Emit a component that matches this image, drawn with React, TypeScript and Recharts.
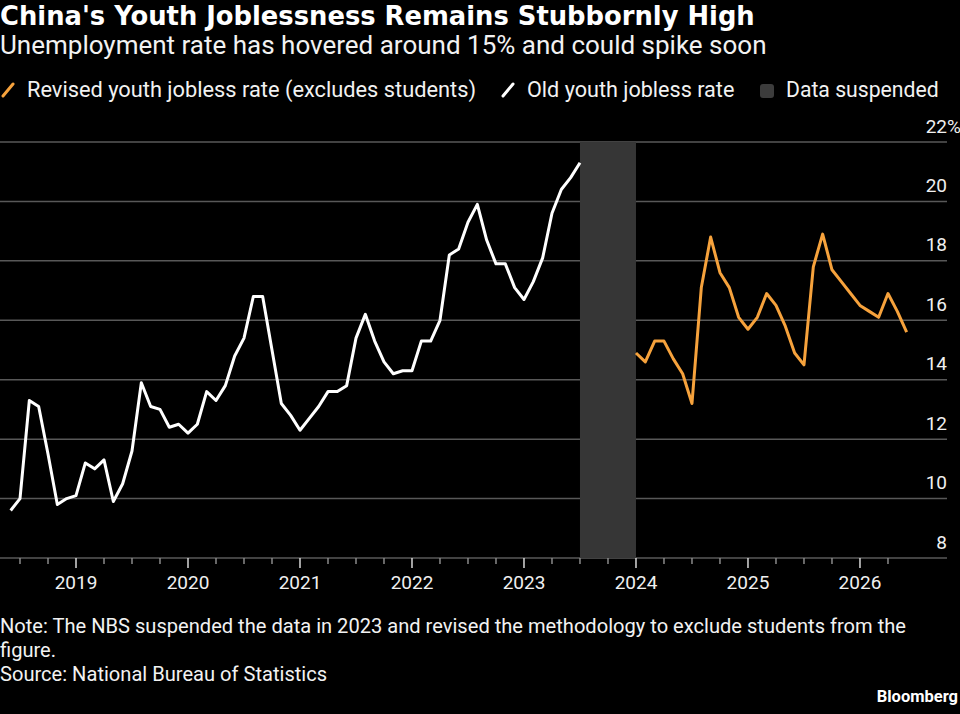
import { CartesianGrid, Line, LineChart, ReferenceArea, XAxis, YAxis } from 'recharts';

const FONT = 'Roboto, "Noto Sans", sans-serif';
const TITLE_FONT = '"DejaVu Sans", Verdana, sans-serif';
const ORANGE = '#f6a23c';
const GRID = '#585858';

// monthly rates (%), each point sits at the end of its month
const oldStartYear = 2018;
const oldStartMonth = 5;
const oldRate = [
  9.6, 10.0, 13.3, 13.1, 11.5, 9.8, 10.0, 10.1,
  11.2, 11.0, 11.3, 9.9, 10.5, 11.6, 13.9, 13.1, 13.0, 12.4, 12.5, 12.2,
  12.5, 13.6, 13.3, 13.8, 14.8, 15.4, 16.8, 16.8, 15.0, 13.2, 12.8, 12.3,
  12.7, 13.1, 13.6, 13.6, 13.8, 15.4, 16.2, 15.3, 14.6, 14.2, 14.3, 14.3,
  15.3, 15.3, 16.0, 18.2, 18.4, 19.3, 19.9, 18.7, 17.9, 17.9, 17.1, 16.7,
  17.3, 18.1, 19.6, 20.4, 20.8, 21.3,
];

const revisedStartYear = 2023;
const revisedStartMonth = 12;
const revisedRate = [
  14.9,
  14.6, 15.3, 15.3, 14.7, 14.2, 13.2, 17.1, 18.8, 17.6, 17.1, 16.1, 15.7,
  16.1, 16.9, 16.5, 15.8, 14.9, 14.5, 17.8, 18.9, 17.7, 17.3, 16.9, 16.5,
  16.3, 16.1, 16.9, 16.3, 15.6,
];

const suspendedFrom = 2023.5;
const suspendedTo = 2024;

const yTicks = [8, 10, 12, 14, 16, 18, 20, 22];
const xDomain = [2018.3214, 2026.777];
const firstQuarterTick = 2018.5;
const lastQuarterTick = 2026.25;

const quarterTicks: number[] = [];
for (let q = firstQuarterTick; q <= lastQuarterTick + 0.001; q += 0.25) quarterTicks.push(q);

const rows = [
  ...oldRate.map((v, i) => ({ t: oldStartYear + (oldStartMonth + i) / 12, old: v, revised: null })),
  ...revisedRate.map((v, i) => ({ t: revisedStartYear + (revisedStartMonth + i) / 12, old: null, revised: v })),
];

const YTick = ({ x, y, payload }: any) => (
  <g>
    <text x={x} y={y - 9.5} textAnchor="end" fill="#f0f0f0" fontSize={19} fontFamily={FONT}>
      {payload.value}
    </text>
    {payload.value === 22 && (
      <text x={x} y={y - 9.5} textAnchor="start" fill="#f0f0f0" fontSize={19} fontFamily={FONT}>
        %
      </text>
    )}
  </g>
);

const XTick = ({ x, y, payload }: any) => {
  const year = Math.round(payload.value);
  const major = Math.abs(payload.value - year) < 0.01;
  return (
    <g>
      <line x1={x} x2={x} y1={y} y2={y + (major ? 10 : 6)} stroke={major ? '#d8d8d8' : '#8a8a8a'} strokeWidth={1.5} />
      {major && (
        <text x={x} y={y + 30.5} textAnchor="middle" fill="#f0f0f0" fontSize={19} fontFamily={FONT}>
          {year}
        </text>
      )}
    </g>
  );
};

const Slash = ({ color }: { color: string }) => (
  <svg width={14} height={16} style={{ position: 'absolute' }}>
    <line x1={2} y1={14} x2={12} y2={2} stroke={color} strokeWidth={3} strokeLinecap="round" />
  </svg>
);

const text = (top: number, left: number | undefined, size: number, extra: any = {}) => ({
  position: 'absolute' as const,
  top,
  left,
  fontSize: size,
  lineHeight: 1,
  fontFamily: FONT,
  color: '#f2f2f2',
  whiteSpace: 'nowrap' as const,
  ...extra,
});

export default function App() {
  return (
    <div style={{ position: 'absolute', top: 0, left: 0, width: 960, height: 714, background: '#000', overflow: 'hidden' }}>
      <LineChart width={960} height={600} data={rows} margin={{ top: 142, right: 0, bottom: 0, left: 0 }}>
        <CartesianGrid vertical={false} stroke={GRID} strokeWidth={1.5} />
        <ReferenceArea x1={suspendedFrom} x2={suspendedTo} fill="#363636" fillOpacity={1} stroke="none" />
        <XAxis
          dataKey="t"
          type="number"
          domain={xDomain}
          ticks={quarterTicks}
          height={42}
          axisLine={false}
          tickLine={false}
          tickSize={0}
          tickMargin={0}
          tick={<XTick />}
          interval={0}
          allowDataOverflow
        />
        <YAxis
          orientation="right"
          width={13}
          domain={[8, 22]}
          ticks={yTicks}
          axisLine={false}
          tickLine={false}
          tickSize={0}
          tickMargin={0}
          tick={<YTick />}
          interval={0}
        />
        <Line dataKey="old" stroke="#ffffff" strokeWidth={3} dot={false} activeDot={false} isAnimationActive={false} strokeLinejoin="round" />
        <Line dataKey="revised" stroke={ORANGE} strokeWidth={3} dot={false} activeDot={false} isAnimationActive={false} strokeLinejoin="round" />
      </LineChart>

      <div style={text(3.6, 0, 25.8, { fontFamily: TITLE_FONT, fontWeight: 700, color: '#fff' })}>
        China's Youth Joblessness Remains Stubbornly High
      </div>
      <div style={text(32.1, 0, 26)}>Unemployment rate has hovered around 15% and could spike soon</div>

      <div style={{ position: 'absolute', top: 82, left: 1 }}><Slash color={ORANGE} /></div>
      <div style={text(79.2, 27, 21.8)}>Revised youth jobless rate (excludes students)</div>
      <div style={{ position: 'absolute', top: 82, left: 501 }}><Slash color="#ffffff" /></div>
      <div style={text(79.2, 527, 21.6)}>Old youth jobless rate</div>
      <div style={{ position: 'absolute', top: 84, left: 760, width: 14, height: 14, borderRadius: 3, background: '#3c3c3c' }} />
      <div style={text(79.2, 786, 21.2)}>Data suspended</div>

      <div style={text(615.3, 0, 20.1, { lineHeight: '23.7px' })}>
        Note: The NBS suspended the data in 2023 and revised the methodology to exclude students from the
        <br />
        figure.
        <br />
        Source: National Bureau of Statistics
      </div>
      <div style={text(689, undefined, 16.5, { right: 2, fontWeight: 700, color: '#fff' })}>Bloomberg</div>
    </div>
  );
}
